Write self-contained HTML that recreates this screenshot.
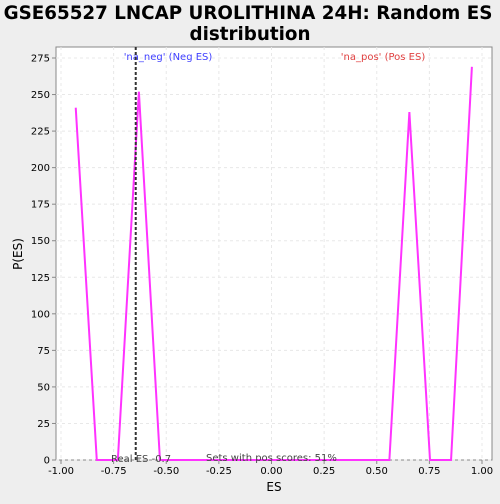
<!DOCTYPE html>
<html><head><meta charset="utf-8"><style>
body{margin:0;background:#eeeeee;font-family:"DejaVu Sans","Liberation Sans",sans-serif}
#wrap{position:relative;width:500px;height:500px}
svg text{font-family:"DejaVu Sans","Liberation Sans",sans-serif}
</style></head><body>
<div id="wrap">
<svg id="svg" width="500" height="500" xmlns="http://www.w3.org/2000/svg">
<text x="248" y="19" text-anchor="middle" font-size="18.3" font-weight="bold" fill="#000">GSE65527 LNCAP UROLITHINA 24H: Random ES</text>
<text x="250" y="40" text-anchor="middle" font-size="18.3" font-weight="bold" fill="#000">distribution</text>
<rect x="56" y="47" width="436" height="413" fill="#fff" stroke="#888"/>
<g id="grid"></g><g id="ticks"></g>
<text x="274" y="491" text-anchor="middle" font-size="12">ES</text>
<text x="22" y="254" text-anchor="middle" font-size="12" transform="rotate(-90 22 254)">P(ES)</text>
<text x="168" y="60" text-anchor="middle" font-size="10" fill="#4040ff">'na_neg' (Neg ES)</text>
<text x="383" y="60" text-anchor="middle" font-size="10" fill="#e04040">'na_pos' (Pos ES)</text>
<g id="series"></g>
<text x="111" y="462" font-size="10" fill="#444">Real ES -0.7</text>
<text x="206" y="461" font-size="10" fill="#444">Sets with pos scores: 51%</text>
</svg></div>
<script>
const xs=[-0.93,-0.83,-0.73,-0.63,-0.53,0.56,0.655,0.753,0.853,0.952];
const ys=[241,0,0,252,0,0,238,0,0,269];
const xTicks=[-1,-0.75,-0.5,-0.25,0,0.25,0.5,0.75,1];
const yTicks=[0,25,50,75,100,125,150,175,200,225,250,275];
const realES=-0.645;
const X=v=>271.5+v*210.5, Y=v=>460-v*1.4618;
const NS="http://www.w3.org/2000/svg";
function mk(t,a,p){const e=document.createElementNS(NS,t);for(const k in a)e.setAttribute(k,a[k]);p.appendChild(e);return e;}
const g=document.getElementById('grid'),tk=document.getElementById('ticks'),s=document.getElementById('series');
xTicks.forEach(v=>{
const l=mk('line',{x1:X(v),x2:X(v),y1:47,y2:460,stroke:'#e8e8e8','stroke-dasharray':'3,3'},g);


const m=mk('line',{x1:X(v),x2:X(v),y1:460,y2:464,stroke:'#888'},tk);


const t=mk('text',{x:X(v),y:474,'text-anchor':'middle','font-size':10},tk);t.textContent=v.toFixed(2);


});
yTicks.forEach(v=>{
const l=mk('line',{x1:56,x2:492,y1:Y(v),y2:Y(v),stroke:'#e8e8e8','stroke-dasharray':'3,3'},g);


const m=mk('line',{x1:52,x2:56,y1:Y(v),y2:Y(v),stroke:'#888'},tk);


const t=mk('text',{x:50,y:Y(v)+3.5,'text-anchor':'end','font-size':10},tk);t.textContent=v;


});
const pl=mk('polyline',{points:xs.map((x,i)=>X(x)+','+Y(ys[i])).join(' '),fill:'none',stroke:'#ff33ff','stroke-width':2},s);


const rl=mk('line',{x1:X(realES),x2:X(realES),y1:47,y2:460,stroke:'#333','stroke-width':2,'stroke-dasharray':'3,2'},s);


</script>
</body></html>
